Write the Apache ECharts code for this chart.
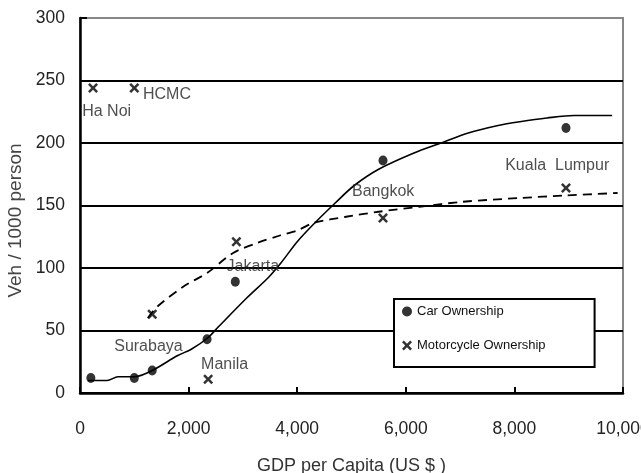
<!DOCTYPE html>
<html><head><meta charset="utf-8">
<script src="https://cdn.jsdelivr.net/npm/echarts@6/dist/echarts.min.js"></script>
<style>html,body{margin:0;padding:0;background:#fff}#c{width:641px;height:473px}</style>
</head><body><div id="c"></div>
<script>
// Observed points
const carGdp = [200, 1000, 1330, 2340, 2860, 5580, 8950];
const carVeh = [12, 12, 18, 43, 89, 186, 212];
const motoGdp = [240, 1000, 1330, 2360, 2880, 5580, 8950];
const motoVeh = [244, 244, 63, 11, 121, 140, 164];
// Fitted curves
const carFitGdp = [150, 500, 700, 1000, 1330, 1800, 2050, 2350, 2550, 3070, 3460, 3700, 4000, 4300, 4700, 5050, 5500, 6150, 6650, 7150, 7700, 8100, 8600, 9100, 9800];
const carFitVeh = [10, 10, 13, 13, 18, 30, 35, 44, 53, 76, 92, 104, 121, 135, 152, 166, 179, 192, 200, 208, 214, 217, 220, 222, 222];
const motoFitGdp = [1250, 1420, 1900, 2340, 2820, 3260, 3680, 4000, 4300, 4900, 5500, 6250, 7050, 8100, 8950, 9900];
const motoFitVeh = [60, 69, 85, 96, 112, 120, 126, 130, 136, 141, 145, 149, 153, 156, 158, 160];
// City annotations (anchor in data units)
const cityNames = ['Ha Noi', 'HCMC', 'Surabaya', 'Manila', 'Jakarta', 'Bangkok', 'Kuala  Lumpur'];
const cityGdp = [40, 1160, 630, 2230, 2700, 5010, 7830];
const cityVeh = [225, 239, 37, 23, 101, 161, 182];
// Axes
const xMax = 10000, xStep = 2000;
const yMax = 300, yStep = 50;
const seriesNames = ['Car Ownership', 'Motorcycle Ownership'];

const FONT = '"Liberation Sans", Arial, sans-serif';
const xPath = 'path://M0,1.8L1.8,0L5,3.2L8.2,0L10,1.8L6.8,5L10,8.2L8.2,10L5,6.8L1.8,10L0,8.2L3.2,5Z';
const zip = (a, b) => a.map((v, i) => [v, b[i]]);

const chart = echarts.init(document.getElementById('c'), null, {renderer: 'canvas'});
chart.setOption({
  animation: false,
  backgroundColor: '#fff',
  grid: {left: 80, right: 18, top: 18, bottom: 80, show: true, borderColor: '#888', borderWidth: 2,
    backgroundColor: 'transparent', containLabel: false, outerBoundsMode: 'none'},
  xAxis: {
    type: 'value', min: 0, max: xMax, interval: xStep,
    name: 'GDP per Capita (US $ )', nameLocation: 'middle', nameGap: 64,
    nameTextStyle: {fontFamily: FONT, fontSize: 18, color: '#333'},
    axisLine: {show: true, onZero: false, lineStyle: {color: '#000', width: 2.5}},
    axisTick: {show: true, inside: true, length: 6, lineStyle: {color: '#000', width: 2}},
    axisLabel: {margin: 27, fontFamily: FONT, fontSize: 17.5, color: '#222',
      formatter: v => v.toLocaleString('en-US')},
    splitLine: {show: false}
  },
  yAxis: {
    type: 'value', min: 0, max: yMax, interval: yStep,
    name: 'Veh / 1000 person', nameLocation: 'middle', nameGap: 55,
    nameTextStyle: {fontFamily: FONT, fontSize: 19, color: '#444', padding: [0, 30, 0, 0]},
    axisLine: {show: true, onZero: false, lineStyle: {color: '#000', width: 2.5}},
    axisTick: {show: true, inside: true, length: 7, lineStyle: {color: '#000', width: 2}},
    axisLabel: {margin: 15, fontFamily: FONT, fontSize: 17.5, color: '#222'},
    splitLine: {show: true, lineStyle: {color: ['#000', '#000', '#000', '#000', '#000', '#000', '#888'], width: 2}}
  },
  legend: {
    data: seriesNames, orient: 'vertical', left: 394, top: 299,
    backgroundColor: '#fff', borderColor: '#000', borderWidth: 2,
    padding: [6, 49, 15, 8], itemGap: 21, itemWidth: 10, itemHeight: 10,
    selectedMode: false,
    textStyle: {fontFamily: FONT, fontSize: 13, color: '#111'}
  },
  series: [
    {type: 'line', name: 'carFit', data: zip(carFitGdp, carFitVeh), smooth: 0.3, symbol: 'none',
      lineStyle: {color: '#000', width: 1.6}, z: 3},
    {type: 'line', name: 'motoFit', data: zip(motoFitGdp, motoFitVeh), smooth: 0.3, symbol: 'none',
      lineStyle: {color: '#000', width: 1.8, type: [9, 6]}, z: 3},
    {type: 'scatter', name: seriesNames[0], data: zip(carGdp, carVeh), symbol: 'circle', symbolSize: [9, 10],
      itemStyle: {color: '#000'}, z: 4},
    {type: 'scatter', name: seriesNames[1], data: zip(motoGdp, motoVeh), symbol: xPath, symbolSize: [10, 10],
      itemStyle: {color: '#000'}, z: 4},
    {type: 'scatter', name: 'cities', data: cityNames.map((n, i) => ({value: [cityGdp[i], cityVeh[i]], name: n})),
      symbolSize: 0, silent: true, z: 5,
      label: {show: true, position: [0, 0], align: 'left', verticalAlign: 'middle',
        formatter: p => p.name, fontFamily: FONT, fontSize: 16, color: '#222'}}
  ]
});
</script></body></html>
